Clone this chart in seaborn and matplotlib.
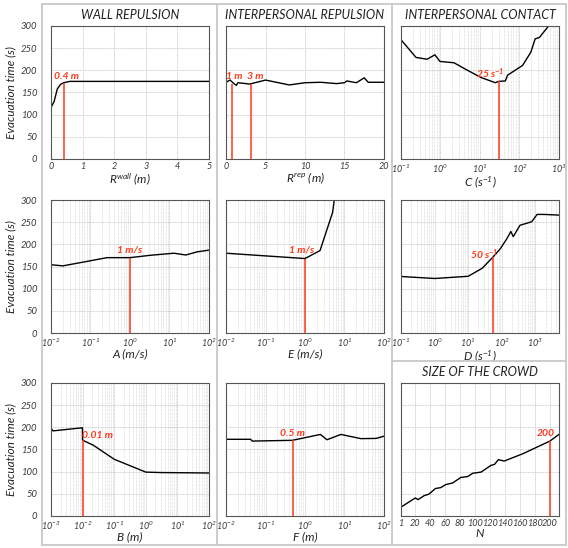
import matplotlib
matplotlib.use("Agg")  # headless
import matplotlib.pyplot as plt
import numpy as np
import seaborn as sns
from matplotlib.lines import Line2D
from matplotlib.ticker import FixedLocator, FuncFormatter, LogLocator, NullFormatter

# ---- data ------------------------------------------------------------------
rwall_x = [0, 0.1, 0.2, 0.3, 0.4, 0.6, 1, 2, 3, 4, 5]
rwall_t = [116, 130, 158, 168, 172, 175, 175, 175, 175, 175, 175]

rrep_x = [0, 0.5, 1, 1.3, 1.5, 3, 5, 8, 10, 12, 14, 15, 15.3, 16.5, 17.5, 18, 20]
rrep_t = [173, 178, 170, 166, 172, 169, 178, 167, 172, 173, 170, 172, 176, 172, 183, 173, 173]

c_x = [0.1, 0.24, 0.46, 0.72, 0.97, 2.2, 4.4, 10.5, 24.5, 29.5, 44, 50, 120, 195, 250, 320, 525, 560]
c_t = [269, 229, 225, 235, 220, 217, 202, 184, 172, 175, 176, 189, 211, 241, 271, 274, 298, 300]

a_x = [0.01, 0.02, 0.1, 0.26, 1, 3.4, 13, 26, 50, 100]
a_t = [154, 151.5, 163, 170, 170, 175.5, 180, 176, 183, 187]

e_x = [0.01, 1, 2.4, 5.0, 5.5]
e_t = [180, 168, 186, 272, 300]

d_x = [0.1, 1, 10, 26, 54, 91, 138, 186, 219, 347, 776, 1120, 1780, 5000]
d_t = [127.5, 123, 128, 146, 171, 190.5, 211.5, 229, 217.5, 243, 251, 267.5, 267.5, 266]

b_x = [0.001, 0.00115, 0.0099, 0.01, 0.022, 0.1, 1, 3, 100]
b_t = [198.5, 192, 199, 171, 159.5, 128, 99, 98, 97]

f_x = [0.01, 0.042, 0.046, 0.48, 2.45, 3.6, 8.1, 26, 63, 100]
f_t = [173, 173, 169, 170.7, 184, 172, 184, 174.5, 175, 180]

n_x = [1, 20, 24, 32, 38, 47, 54, 61, 70, 81, 90, 97, 108, 121, 126, 131, 139, 164, 200, 212]
n_t = [20, 40.6, 37, 46, 49, 62, 64, 71, 74.5, 87, 89, 96.5, 99, 114, 116.5, 127, 124, 140.6, 169, 184]

titles = ["WALL REPULSION", "INTERPERSONAL REPULSION", "INTERPERSONAL CONTACT",
          "", "", "", "", "", "SIZE OF THE CROWD"]
xlabels = ["$R^{wall}$ (m)", "$R^{rep}$ (m)", "C (s$^{-1}$)",
           "A (m/s)", "E (m/s)", "D (s$^{-1}$)",
           "B (m)", "F (m)", "N"]

# red reference values: line position, line height, label text, label position
mark_x = [[0.4], [0.8, 3.1], [29.5], [1.0], [1.0], [54], [0.01], [0.5], [200]]
mark_h = [[172], [170, 169], [175], [170], [168], [171], [171], [171], [169]]
mark_txt = [["0.4 m"], ["1 m", "3 m"], [r"25 s$^{\mathbf{-1}}$"], ["1 m/s"], ["1 m/s"],
            [r"50 s$^{\mathbf{-1}}$"], ["0.01 m"], ["0.5 m"], ["200"]]
mark_lx = [[0.5], [1.0, 3.7], [18], [1.0], [0.82], [29], [0.029], [0.48], [194.6]]
mark_ly = [[186], [187, 186], [193], [187.5], [187.5], [176], [180.5], [187], [187]]

panel_x = [rwall_x, rrep_x, c_x, a_x, e_x, d_x, b_x, f_x, n_x]
panel_t = [rwall_t, rrep_t, c_t, a_t, e_t, d_t, b_t, f_t, n_t]
log_x = [False, False, True, True, True, True, True, True, False]
x_lims = [(0, 5), (0, 20), (0.1, 1000), (0.01, 100), (0.01, 100), (0.1, 5000),
          (0.001, 100), (0.01, 100), (1, 212)]
lin_ticks = {0: [0, 1, 2, 3, 4, 5], 1: [0, 5, 10, 15, 20],
             8: [1, 20, 40, 60, 80, 100, 120, 140, 160, 180, 200]}
y_ticks = [0, 50, 100, 150, 200, 250, 300]

RED = "#ff3a1a"
TXT = "#3a3a3a"

sns.set_style("white")
plt.rcParams.update({
    "font.family": ["Lato", "DejaVu Sans"],
    "font.style": "italic",
    "mathtext.fontset": "custom",
    "mathtext.rm": "Lato:italic",
    "mathtext.it": "Lato:italic",
    "mathtext.sf": "Lato:italic",
    "mathtext.bf": "Lato:italic:bold",
})

fig = plt.figure(figsize=(5.68, 5.48), dpi=100)

col_left = [0.0898, 0.398, 0.706]
row_bottom = [0.7099, 0.3923, 0.0584]
w, h = 0.278, 0.2427


def decade_fmt(v, _pos):
    return f"$10^{{{int(round(np.log10(v)))}}}$"


for i in range(9):
    r, c = divmod(i, 3)
    ax = fig.add_axes([col_left[c], row_bottom[r], w, h])
    sns.lineplot(x=panel_x[i], y=panel_t[i], ax=ax, color="black",
                 linewidth=1.0, estimator=None, sort=False)
    ax.vlines(mark_x[i], 0, mark_h[i], color=RED, linewidth=1.1, zorder=3)
    for tx, lx, ly in zip(mark_txt[i], mark_lx[i], mark_ly[i]):
        ax.text(lx, ly, tx, color=RED, fontsize=7.5, fontweight="bold",
                ha="center", va="center")

    if log_x[i]:
        ax.set_xscale("log")
        ax.xaxis.set_major_locator(LogLocator(base=10, numticks=20))
        ax.xaxis.set_major_formatter(FuncFormatter(decade_fmt))
        ax.xaxis.set_minor_locator(LogLocator(base=10, subs=np.arange(2, 10), numticks=20))
        ax.xaxis.set_minor_formatter(NullFormatter())
    else:
        ax.xaxis.set_major_locator(FixedLocator(lin_ticks[i]))
    ax.set_xlim(*x_lims[i])
    ax.set_ylim(0, 300)
    ax.set_yticks(y_ticks)

    ax.grid(which="major", color="#bdbdbd", linestyle=(0, (1, 1)), linewidth=0.6)
    if log_x[i]:
        ax.grid(which="minor", axis="x", color="#cfcfcf", linestyle=(0, (1, 1)), linewidth=0.5)

    ax.tick_params(axis="both", which="both", length=0, labelsize=6.8, colors=TXT)
    ax.tick_params(axis="x", labelsize=6.5 if i != 8 else 6.6, pad=2.5)
    ax.tick_params(axis="y", pad=10)
    if c != 0:
        ax.tick_params(axis="y", labelleft=False)
    else:
        ax.set_ylabel("Evacuation time (s)", fontsize=8.5, color="#222222", labelpad=3)

    ax.set_xlabel(xlabels[i], fontsize=8.6, color="#222222", labelpad=-0.5)
    if titles[i]:
        ax.set_title(titles[i], fontsize=9, color="#222222", pad=5)
    for sp in ax.spines.values():
        sp.set_color("#555555")
        sp.set_linewidth(0.8)

# panel frame lines
frame = "#c8c8c8"
x0, x1, x2, x3 = 42 / 568, 217 / 568, 392 / 568, 566 / 568
yt, yb, ym = 1 - 4 / 548, 1 - 545 / 548, 1 - 361 / 548
for xs, ys in [([x0, x3], [yt, yt]), ([x0, x3], [yb, yb]), ([x0, x0], [yb, yt]),
               ([x3, x3], [yb, yt]), ([x1, x1], [yb, yt]), ([x2, x2], [yb, yt]),
               ([x2, x3], [ym, ym])]:
    fig.add_artist(Line2D(xs, ys, color=frame, linewidth=1.3, transform=fig.transFigure))

fig.savefig("out.png", dpi=100)
plt.close(fig)
